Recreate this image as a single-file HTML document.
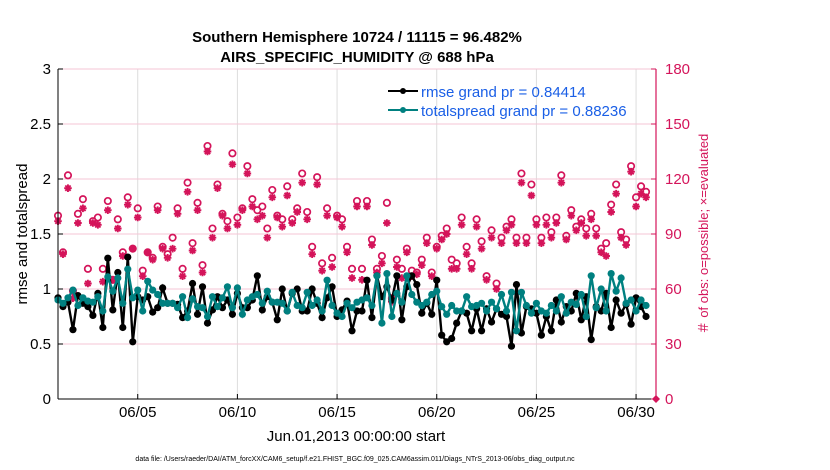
<!DOCTYPE html>
<html><head><meta charset="utf-8"><style>
body{margin:0;background:#fff;}
svg{display:block;font-family:"Liberation Sans",sans-serif;}
</style></head><body>
<svg id="chart" width="830" height="470" viewBox="0 0 830 470" xmlns="http://www.w3.org/2000/svg">
<g id="grid"></g>
<g id="series"></g>
<g id="axes"></g>
<text x="357" y="42" text-anchor="middle" font-size="15" font-weight="bold">Southern Hemisphere 10724 / 11115 = 96.482%</text>
<text x="357" y="62" text-anchor="middle" font-size="15" font-weight="bold">AIRS_SPECIFIC_HUMIDITY @ 688 hPa</text>
<text transform="translate(27,234) rotate(-90)" text-anchor="middle" font-size="15">rmse and totalspread</text>
<text transform="translate(708,234) rotate(-90)" text-anchor="middle" font-size="13" fill="#d4145a">＃ of obs: o=possible; ×=evaluated</text>
<text x="356" y="441" text-anchor="middle" font-size="15">Jun.01,2013 00:00:00 start</text>
<text x="355" y="461" text-anchor="middle" font-size="7">data file: /Users/raeder/DAI/ATM_forcXX/CAM6_setup/f.e21.FHIST_BGC.f09_025.CAM6assim.011/Diags_NTrS_2013-06/obs_diag_output.nc</text>
<g>
<line x1="388" y1="91" x2="418" y2="91" stroke="#000" stroke-width="2"/><circle cx="403" cy="91" r="3" fill="#000"/>
<text x="421" y="97" font-size="15" fill="#1a5fe6">rmse grand pr = 0.84414</text>
<line x1="388" y1="110" x2="418" y2="110" stroke="#008080" stroke-width="2"/><circle cx="403" cy="110" r="3" fill="#008080"/>
<text x="421" y="116" font-size="15" fill="#1a5fe6">totalspread grand pr = 0.88236</text>
</g>
</svg>
<script>
const rmse=[0.92,0.84,0.88,0.63,0.94,0.87,0.84,0.76,0.96,0.65,1.28,0.81,1.15,0.65,1.29,0.52,0.93,0.9,0.93,0.79,0.83,1.01,0.87,0.87,0.86,0.74,0.8,1.05,0.77,1.02,0.69,0.81,0.93,0.83,0.9,0.77,0.96,0.83,
0.83,0.9,1.12,0.81,0.93,0.88,0.72,1.0,0.8,0.96,1.0,0.8,0.8,1.0,0.87,0.74,0.92,1.02,0.75,0.81,0.89,0.62,0.8,0.8,1.08,0.74,1.12,0.93,1.02,0.9,1.12,0.72,1.02,1.12,1.04,0.78,0.87,0.77,1.08,0.58,
0.52,
0.55,0.69,0.8,0.78,0.62,0.82,0.62,0.82,0.7,0.82,0.77,0.75,0.48,1.04,0.6,0.84,0.82,0.78,0.58,0.75,0.62,0.9,0.7,0.84,0.8,0.96,0.72,0.93,0.54,0.84,0.8,0.96,0.65,0.9,0.78,0.86,0.68,0.92,0.84,0.75];
const spread=[0.9,0.87,0.92,0.99,0.85,0.92,0.89,0.88,0.93,0.8,1.11,0.98,1.1,0.87,1.18,0.92,0.99,0.8,1.07,0.99,0.95,0.87,0.87,0.87,0.83,0.93,0.74,0.91,0.84,0.83,0.75,0.93,0.84,0.92,1.02,0.83,1.01,0.77,
0.9,0.93,0.95,0.87,0.98,0.88,0.88,0.87,0.8,0.97,0.85,0.83,0.97,0.85,0.9,0.8,1.08,0.85,0.78,0.75,0.87,0.83,0.88,0.9,0.92,0.85,1.12,0.69,1.14,0.75,0.96,0.88,1.12,0.95,0.88,0.85,0.88,0.95,0.98,0.84,
0.77,
0.85,0.8,0.8,0.93,0.84,0.85,0.87,0.8,0.88,0.82,0.95,0.8,0.97,0.62,0.97,0.85,0.78,0.87,0.8,0.78,0.85,0.8,0.93,0.78,0.88,0.86,0.95,0.75,1.12,0.83,1.0,0.8,1.14,0.98,1.1,0.87,0.9,0.8,0.9,0.85];
const possible=[100,80,122,59,101,109,71,97,99,71,108,65,98,80,110,82,104,70,80,77,105,83,79,88,104,71,118,85,107,73,138,93,117,101,97,134,99,104,
127,109,103,105,93,114,100,98,116,98,104,123,102,83,121,74,104,77,100,98,83,71,108,71,108,87,71,78,107,55,76,71,82,70,69,76,88,69,83,89,
93,
76,74,99,83,74,98,86,67,92,63,88,94,98,88,123,88,117,98,88,99,91,99,122,89,103,94,98,93,101,93,82,85,106,117,91,87,127,110,116,113];
const evaluated=[97,79,115,55,96,104,63,96,95,64,103,65,93,78,106,82,99,67,80,76,103,82,77,82,101,67,113,81,103,69,135,88,115,100,93,128,95,103,
123,105,98,100,88,110,99,94,111,96,102,118,98,79,117,70,100,72,99,94,80,66,105,65,105,84,69,74,96,53,72,66,80,67,68,73,85,67,82,87,
90,
71,71,95,79,71,94,82,65,88,60,85,92,95,85,118,85,111,95,85,95,88,96,118,87,100,92,96,89,98,89,80,78,102,112,88,84,124,105,112,110];
const xTickDays=[5,10,15,20,25,30];
const xTickLabels=["06/05","06/10","06/15","06/20","06/25","06/30"];
const yTicks=[0,0.5,1,1.5,2,2.5,3];
const yTickLabels=["0","0.5","1","1.5","2","2.5","3"];
const y2Ticks=[0,30,60,90,120,150,180];
const startDay=1.0, stepDay=0.25;

const L=58,R=656,T=69,B=399;
const X=d=>L+(d-1.0)/30*(R-L);
const Y=v=>B-v/3*(B-T);
const Y2=c=>B-c/180*(B-T);
const NS="http://www.w3.org/2000/svg";
function mk(parent,tag,attrs){const e=document.createElementNS(NS,tag);for(const k in attrs)e.setAttribute(k,attrs[k]);document.getElementById(parent).appendChild(e);return e;}
xTickDays.forEach((d,i)=>{
 const g=mk('grid','line',{x1:X(d),x2:X(d),y1:T,y2:B,stroke:'#dcdcdc','stroke-width':1});
 
 
});
yTicks.forEach(v=>{ if(v===0)return;
 const g=mk('grid','line',{x1:L,x2:R,y1:Y(v),y2:Y(v),stroke:'#f5c6d6','stroke-width':1});
 
 
});
const dayOf=i=>startDay+i*stepDay;
evaluated.forEach((c,i)=>{
 const x=X(dayOf(i)),y=Y2(c),s=3.8;
 const p=mk('series','path',{d:`M${x-s},${y}H${x+s}M${x},${y-s}V${y+s}M${x-s*0.7},${y-s*0.7}L${x+s*0.7},${y+s*0.7}M${x-s*0.7},${y+s*0.7}L${x+s*0.7},${y-s*0.7}`,stroke:'#d4145a','stroke-width':1.9});
 
 
});
possible.forEach((c,i)=>{
 const p=mk('series','circle',{cx:X(dayOf(i)),cy:Y2(c),r:3.2,fill:'none',stroke:'#d4145a','stroke-width':1.7});
 
 
});
function line(arr,color,name){
 const pts=arr.map((v,i)=>X(dayOf(i)).toFixed(1)+','+Y(v).toFixed(1)).join(' ');
 const pl=mk('series','polyline',{points:pts,fill:'none',stroke:color,'stroke-width':2.4});
 
 
 arr.forEach((v,i)=>{
  const c=mk('series','circle',{cx:X(dayOf(i)),cy:Y(v),r:3.6,fill:color});
  
  
 });
}
line(rmse,'#000','rmse');
line(spread,'#008080','totalspread');
let a=mk('axes','line',{x1:L,x2:L,y1:T,y2:B,stroke:'#000','stroke-width':1});


a=mk('axes','line',{x1:L,x2:R,y1:B,y2:B,stroke:'#000','stroke-width':1});


a=mk('axes','line',{x1:R,x2:R,y1:T,y2:B,stroke:'#d4145a','stroke-width':1.2});


a=mk('axes','path',{d:`M${R},${B-4}L${R+4},${B}L${R},${B+4}L${R-4},${B}Z`,fill:'#d4145a'});


xTickDays.forEach((d,i)=>{
 const t=mk('axes','line',{x1:X(d),x2:X(d),y1:B,y2:B-5,stroke:'#000'});
 
 
 const l=mk('axes','text',{x:X(d),y:B+18,'text-anchor':'middle','font-size':15});
 l.textContent=xTickLabels[i];
 
 
});
yTicks.forEach((v,i)=>{
 const t=mk('axes','line',{x1:L,x2:L+5,y1:Y(v),y2:Y(v),stroke:'#000'});
 
 
 const l=mk('axes','text',{x:L-7,y:Y(v)+5,'text-anchor':'end','font-size':15});
 l.textContent=yTickLabels[i];
 
 
});
y2Ticks.forEach(c=>{
 const t=mk('axes','line',{x1:R,x2:R-5,y1:Y2(c),y2:Y2(c),stroke:'#d4145a'});
 
 
 const l=mk('axes','text',{x:R+9,y:Y2(c)+5,'font-size':15,fill:'#d4145a'});
 l.textContent=String(c);
 
 
});
</script>
</body></html>
